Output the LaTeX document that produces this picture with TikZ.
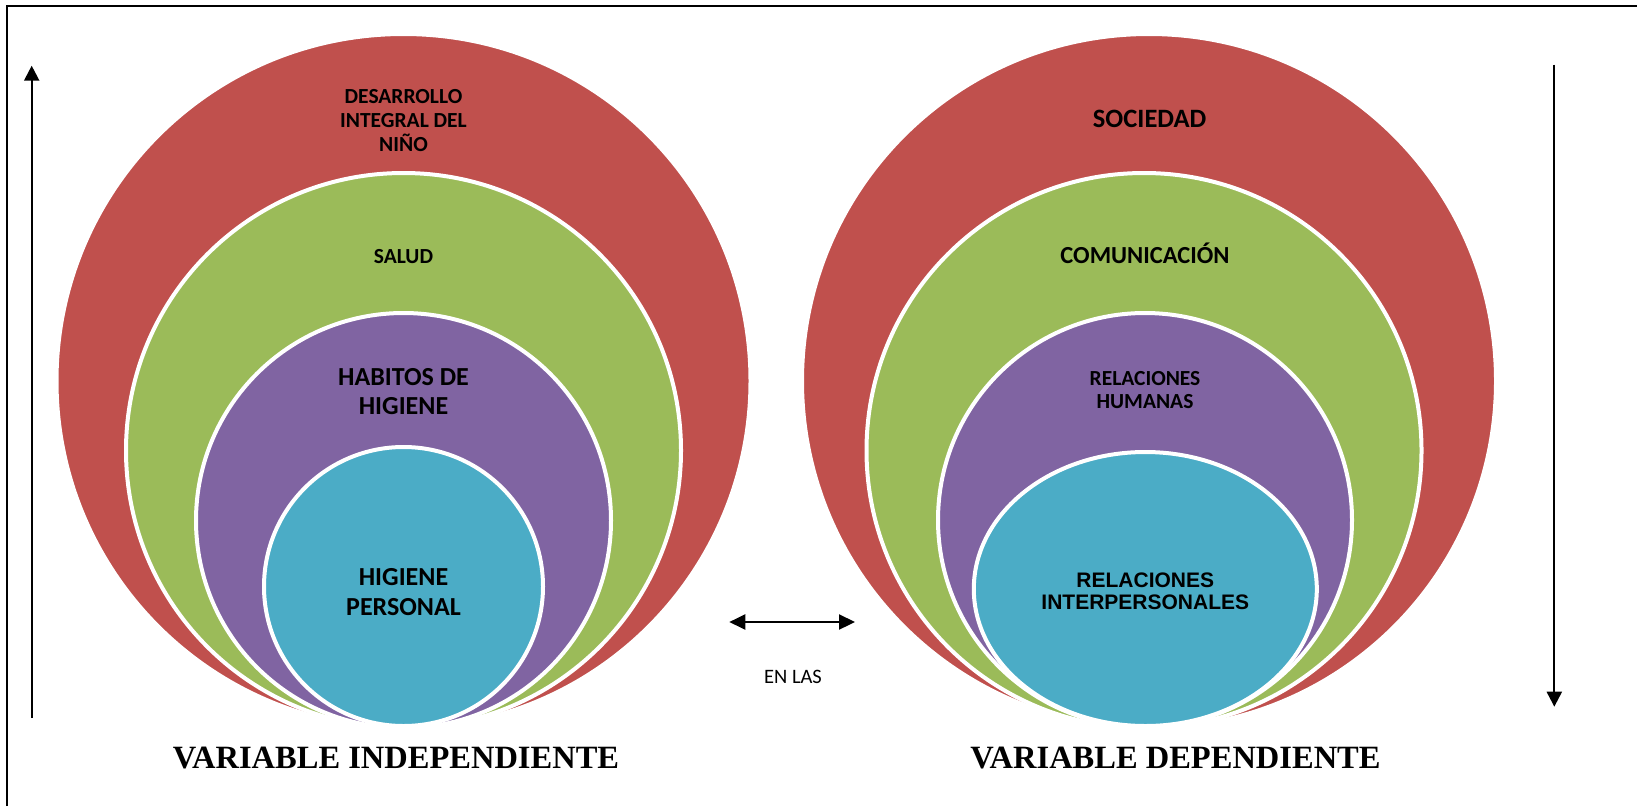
\documentclass[tikz,border=0pt]{standalone}
\usepackage{fontspec}
\setmainfont{Carlito}
\newfontfamily\arialfont{Liberation Sans}
\newfontfamily\timesfont{Liberation Serif}
\usetikzlibrary{arrows.meta,shapes.geometric}
\definecolor{cred}{HTML}{C0504D}
\definecolor{cgreen}{HTML}{9BBB59}
\definecolor{cpurple}{HTML}{8064A2}
\definecolor{cteal}{HTML}{4BACC6}
\begin{document}
\begin{tikzpicture}[x=1pt,y=-1pt,
  ring/.style={circle, draw=white, line width=4pt, inner sep=0pt, minimum size=#1},
  oval/.style 2 args={ellipse, draw=white, line width=4pt, inner sep=0pt, minimum width=#1, minimum height=#2},
  lbl/.style={align=center, inner sep=0pt, text=black},
  tipstyle/.style={line width=2.2pt},
  title/.style={inner sep=0pt, anchor=base, font=\timesfont\bfseries\fontsize{32.5}{36}\selectfont},
]
\useasboundingbox (0,0) rectangle (1637,806);
\fill[white] (0,0) rectangle (1637,806);
\draw[line width=1.8pt] (6.7,806) -- (6.7,5.7) -- (1637,5.7);

% left nested circles
\node[ring=694pt, fill=cred] (la) at (403.5,381) {};
\node[ring=555pt, fill=cgreen] (lb) at (403.5,450.5) {};
\node[ring=415pt, fill=cpurple] (lc) at (403.5,520.5) {};
\node[ring=279pt, fill=cteal] (ld) at (403.5,586.5) {};

\node[lbl, font=\bfseries\fontsize{21.5}{24}\selectfont] (ta) at (403.5,120.7) {DESARROLLO\\INTEGRAL DEL\\NIÑO};
\node[lbl, anchor=base, font=\bfseries\fontsize{21.5}{24}\selectfont] (tb) at (403.5,263.6) {SALUD};
\node[lbl, font=\bfseries\fontsize{26}{29}\selectfont] (tc) at (403.5,391.2) {HABITOS DE\\HIGIENE};
\node[lbl, font=\bfseries\fontsize{26}{30}\selectfont] (td) at (403.5,591.7) {HIGIENE\\PERSONAL};

% right nested circles
\node[ring=694pt, fill=cred] (ra) at (1149,381) {};
\node[ring=555pt, fill=cgreen] (rb) at (1144,450.5) {};
\node[ring=414pt, fill=cpurple] (rc) at (1145,520) {};
\node[oval={343pt}{274pt}, fill=cteal] (rd) at (1145.3,589) {};

\node[lbl, anchor=base, font=\bfseries\fontsize{26.5}{30}\selectfont] (sa) at (1149.6,127.5) {SOCIEDAD};
\node[lbl, anchor=base, font=\bfseries\fontsize{24.5}{28}\selectfont] (sb) at (1145,263.9) {COMUNICACIÓN};
\node[lbl, font=\bfseries\fontsize{21.5}{22.7}\selectfont] (sc) at (1145,390.3) {RELACIONES\\HUMANAS};
\node[lbl, font=\arialfont\bfseries\fontsize{21}{22}\selectfont] (sd) at (1145.3,591.7) {RELACIONES\\INTERPERSONALES};

% titles
\node[title] (vi) at (396,768.3) {VARIABLE INDEPENDIENTE};
\node[title] (vd) at (1175.5,768.3) {VARIABLE DEPENDIENTE};

% arrows
\coordinate (up0) at (31.7,718);
\coordinate (up1) at (31.7,65.7);
\coordinate (dn0) at (1554.3,64.7);
\coordinate (dn1) at (1554.3,706.7);
\coordinate (dl) at (729.3,622);
\coordinate (dr) at (855,622);
\draw[tipstyle, -{Triangle[length=15pt,width=15pt]}] (up0) -- (up1);
\draw[tipstyle, -{Triangle[length=15pt,width=15pt]}] (dn0) -- (dn1);
\draw[tipstyle, {Triangle[length=16pt,width=15pt]}-{Triangle[length=16pt,width=15pt]}] (dl) -- (dr);
\node[lbl, anchor=base, font=\fontsize{20.5}{24}\selectfont] (en) at (793,683.3) {EN LAS};
\end{tikzpicture}
\end{document}
